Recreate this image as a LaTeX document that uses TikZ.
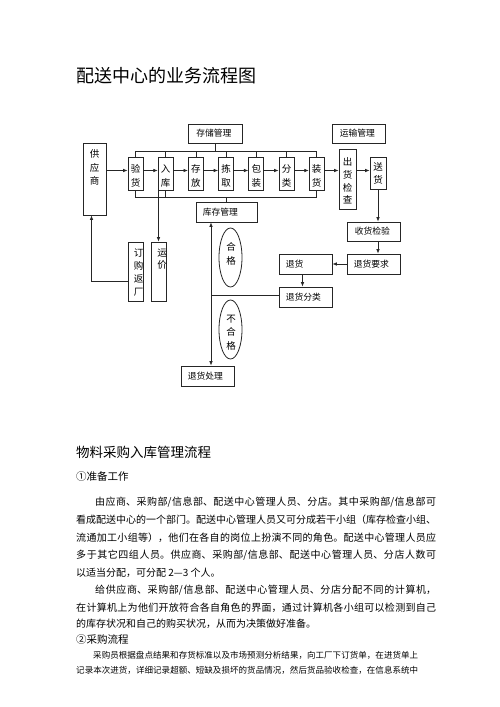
\documentclass[tikz,border=0pt]{standalone}
\usepackage{fontspec}
\newfontfamily\cjk{Noto Sans CJK SC}
\usetikzlibrary{shapes.geometric,arrows.meta}
\XeTeXlinebreaklocale "zh"
\XeTeXlinebreakskip=0pt plus 2pt
\newcommand\fullline[2]{\parbox[t]{#1}{\parfillskip=0pt\parindent=0pt\tolerance=9999 #2}}
\begin{document}
\begin{tikzpicture}[x=1pt,y=-1pt,
 bx/.style={draw=black!85,line width=0.8pt,inner sep=0pt},
 vtext/.style={font=\cjk\fontsize{9.5}{13.5}\selectfont,align=center,inner sep=0pt},
 htext/.style={font=\cjk\fontsize{8.8}{10}\selectfont,inner sep=0pt,anchor=west},
 arr/.style={-{Latex[length=4.5pt,width=3.6pt]},line width=0.8pt,draw=black!85},
 ln/.style={line width=0.8pt,draw=black!85},
 oval/.style={ellipse,draw=black!85,line width=0.8pt,inner sep=0pt,minimum width=23pt,minimum height=59pt},
 txt/.style={anchor=base west,inner sep=0pt},
 body/.style={txt,font=\cjk\fontsize{10}{12}\selectfont},
 small/.style={txt,font=\cjk\fontsize{8.5}{10}\selectfont},
]
\fill[white] (0,0) rectangle (500,707);
\useasboundingbox (0,0) rectangle (500,707);

% title
\node[txt,font=\cjk\fontsize{18}{20}\selectfont] (title) at (76,82) {配送中心的业务流程图};

% management boxes
\node[bx,minimum width=54pt,minimum height=19pt] (cunchu) at (215,133.5) {};
\node[htext] (cunchut) at ([xshift=8.5pt]cunchu.west) {存储管理};
\node[bx,minimum width=53pt,minimum height=19pt] (yunshu) at (358.5,133.5) {};
\node[htext] (yunshut) at ([xshift=8pt]yunshu.west) {运输管理};

% supplier
\node[bx,minimum width=23pt,minimum height=72pt] (gys) at (94.5,179) {};
\node[vtext,anchor=north] (gyst) at (94.5,149.5) {供\\应\\商};

% process row
\foreach \n/\t/\x in {yh/验\\货/135.5,rk/入\\库/165.7,cf/存\\放/195.9,jq/拣\\取/226.1,bz/包\\装/256.3,fl/分\\类/286.5,zh/装\\货/316.7}{
  \node[bx,minimum width=15pt,minimum height=33pt] (\n) at (\x,173.5) {};
  \node[vtext] (\n t) at (\x,176) {\t};
}
\node[bx,minimum width=17pt,minimum height=60pt] (chk) at (347.5,179) {};
\node[vtext,font=\cjk\fontsize{9.5}{12.7}\selectfont] (chkt) at (347.5,181) {出\\货\\检\\查};
\node[bx,minimum width=16pt,minimum height=32pt] (sh) at (378,173) {};
\node[vtext] (sht) at (378,173.5) {送\\货};

% row arrows
\coordinate (rowy) at (0,170.5);
\draw[arr] (gys.east |- rowy) -- (yh.west |- rowy);
\draw[arr] (yh.east |- rowy) -- (rk.west |- rowy);
\draw[arr] (rk.east |- rowy) -- (cf.west |- rowy);
\draw[arr] (cf.east |- rowy) -- (jq.west |- rowy);
\draw[arr] (jq.east |- rowy) -- (bz.west |- rowy);
\draw[arr] (bz.east |- rowy) -- (fl.west |- rowy);
\draw[arr] (fl.east |- rowy) -- (zh.west |- rowy);
\draw[arr] (zh.east |- rowy) -- (chk.west |- rowy);
\draw[arr] (chk.east |- rowy) -- (sh.west |- rowy);

% brackets
\coordinate (topy) at (0,151);
\coordinate (boty) at (0,197.5);
\draw[ln] (yh.north) -- (yh.north |- topy) -- (zh.north |- topy) -- (zh.north);
\foreach \n in {rk,cf,jq,bz,fl} \draw[ln] (\n.north) -- (\n.north |- topy);
\draw[ln] (cunchu.south) -- (cunchu.south |- topy);

% inventory management
\node[bx,minimum width=61pt,minimum height=20pt] (kucun) at (226.5,212) {};
\node[htext] (kucunt) at ([xshift=7pt]kucun.west) {库存管理};
\draw[ln] (yh.south) -- (yh.south |- boty) -- (zh.south |- boty) -- (zh.south);
\draw[ln] (rk.south) -- (rk.south |- boty);
\draw[ln] (kucun.north) -- (kucun.north |- boty);

% lower-left boxes
\node[bx,minimum width=15pt,minimum height=59pt] (dg) at (135.5,271.5) {};
\node[vtext,font=\cjk\fontsize{9.5}{13}\selectfont] (dgt) at (138.5,272.5) {订\\购\\返\\厂};
\node[bx,minimum width=15pt,minimum height=59pt] (yj) at (158.5,271.5) {};
\begin{scope}
\clip (yj.south west) rectangle (yj.north east);
\node[vtext,font=\cjk\fontsize{9.5}{12.5}\selectfont] (yjt) at (162,259) {运\\价};
\end{scope}
\draw[arr] (yj.north |- rk.south) -- (yj.north);
\coordinate (retl) at (0,281);
\draw[arr] (dg.west |- retl) -| ([xshift=-3pt]gys.south);

% right side
\node[bx,minimum width=53pt,minimum height=19pt] (shj) at (373.5,231.5) {};
\node[htext] (shjt) at ([xshift=8pt]shj.west) {收货检验};
\node[bx,minimum width=53pt,minimum height=20pt] (yq) at (373.5,264) {};
\node[htext] (yqt) at ([xshift=7pt]yq.west) {退货要求};
\node[bx,minimum width=53pt,minimum height=20pt] (th) at (305.5,264) {};
\node[htext] (tht) at ([xshift=7pt]th.west) {退货};
\node[bx,minimum width=53pt,minimum height=20pt] (thfl) at (305.5,297) {};
\node[htext] (thflt) at ([xshift=7pt]thfl.west) {退货分类};
\node[bx,minimum width=53pt,minimum height=20pt] (thcl) at (207.5,376) {};
\node[htext] (thclt) at ([xshift=7pt]thcl.west) {退货处理};

\draw[arr] (sh.south) -- (sh.south |- shj.north);
\draw[arr] (sh.south |- shj.south) -- (sh.south |- yq.north);
\draw[arr] (yq.west) -- (th.east);
\draw[arr] ([xshift=-3pt]th.south) -- ([xshift=-3pt]th.south |- thfl.north);
\coordinate (junc) at (211,295);
\draw[ln] (thfl.west |- junc) -- (junc);
\draw[arr] (junc) -- (junc |- kucun.south);
\draw[arr] (junc) -- (junc |- thcl.north);

% ellipses
\node[oval] (hege) at (230.5,257.5) {};
\node[vtext] (heget) at (231,254) {合\\格};
\node[oval] (buhege) at (230.5,329.5) {};
\node[vtext] (buheget) at (231,332.5) {不\\合\\格};

% text section
\node[txt,font=\cjk\fontsize{13.5}{15}\selectfont] (h2) at (76,457) {物料采购入库管理流程};
\node[txt,font=\cjk\fontsize{10.5}{12}\selectfont] (s1) at (76,480) {①准备工作};
\node[body] (p1) at (76,505) {\fullline{360pt}{\hspace*{19pt}由应商、采购部/信息部、配送中心管理人员、分店。其中采购部/信息部可}};
\node[body] (p2) at (76,523) {\fullline{360pt}{看成配送中心的一个部门。配送中心管理人员又可分成若干小组（库存检查小组、}};
\node[body] (p3) at (76,541) {\fullline{360pt}{流通加工小组等），他们在各自的岗位上扮演不同的角色。配送中心管理人员应}};
\node[body] (p4) at (76,558.5) {\fullline{360pt}{多于其它四组人员。供应商、采购部/信息部、配送中心管理人员、分店人数可}};
\node[body] (p5) at (76,576) {以适当分配，可分配 2—3 个人。};
\node[body] (p6) at (76,593) {\fullline{360pt}{\hspace*{19pt}给供应商、采购部/信息部、配送中心管理人员、分店分配不同的计算机，}};
\node[body] (p7) at (76,611) {\fullline{360pt}{在计算机上为他们开放符合各自角色的界面，通过计算机各小组可以检测到自己}};
\node[body] (p8) at (76,627) {的库存状况和自己的购买状况，从而为决策做好准备。};
\node[txt,font=\cjk\fontsize{10.5}{12}\selectfont] (s2) at (76,643) {②采购流程};
\node[small] (q1) at (76,658) {\fullline{342pt}{\hspace*{17pt}采购员根据盘点结果和存货标准以及市场预测分析结果，向工厂下订货单，在进货单上}};
\node[small] (q2) at (76,673.5) {\fullline{342pt}{记录本次进货，详细记录超额、短缺及损坏的货品情况，然后货品验收检查，在信息系统中}};
\end{tikzpicture}
\end{document}
